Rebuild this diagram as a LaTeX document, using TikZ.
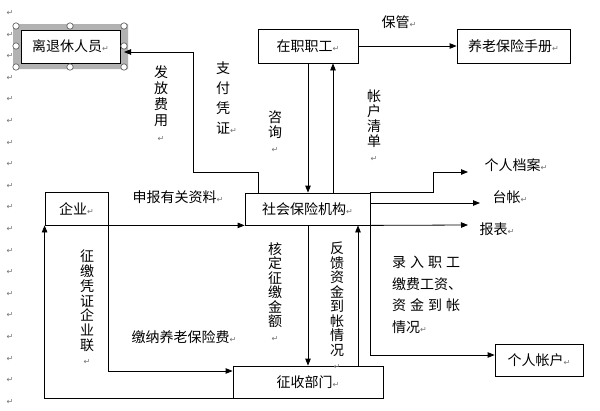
\documentclass[tikz,border=0pt]{standalone}
\usepackage{fontspec}
\setmainfont{Noto Sans CJK SC}
\newfontfamily\dejavu{DejaVu Sans}
\usetikzlibrary{arrows.meta,calc}
\newcommand\rmk{{\dejavu\fontsize{8}{8}\selectfont\textcolor{black!55}{↵}}}
\tikzset{
  box/.style={draw, line width=0.8pt, inner sep=0, font=\fontsize{14}{16}\selectfont},
  lab/.style={inner sep=0, font=\fontsize{14}{16}\selectfont},
  vlab/.style={inner sep=0, align=center, anchor=north, font=\fontsize{14}{#1}\selectfont},
  arr/.style={line width=0.8pt, -{Triangle[length=7pt,width=5.5pt]}},
  mk/.style={inner sep=0},
}
\begin{document}
\begin{tikzpicture}[x=1pt,y=-1pt]
\useasboundingbox (0,0) rectangle (600,410);
\fill[white] (0,0) rectangle (600,410);
% left margin paragraph marks
\foreach \i in {0,...,18} \node[mk] (m\i) at (10,13+21.6*\i) {\rmk};
% selection frame
\fill[black!30, even odd rule] (13,24) rectangle (128,69) (21,30) rectangle (120,63);
% boxes
\node[box, fill=white, minimum width=99pt, minimum height=33pt] (retire) at (70.5,46.5) {离退休人员\rmk};
\foreach \p in {(16,26),(70,26),(124,26),(16,46),(124,46),(16,67),(70,67),(124,67)}
  \draw[black!60, fill=white, line width=0.7pt] \p circle (3.2pt);
\node[box, minimum width=100pt, minimum height=34pt] (worker) at (308,46) {在职职工\rmk};
\node[box, minimum width=113pt, minimum height=34pt] (manual) at (513.5,46) {养老保险手册\rmk};
\node[box, minimum width=63pt, minimum height=33pt] (ent) at (76.5,208.5) {企业\rmk};
\node[box, minimum width=125pt, minimum height=32pt] (ssa) at (307.5,209) {社会保险机构\rmk};
\node[box, minimum width=150pt, minimum height=32pt] (collect) at (308,382) {征收部门\rmk};
\node[box, minimum width=88pt, minimum height=32pt] (acct) at (539,360) {个人帐户\rmk};
% text targets
\node[lab] (archive) at (516,165) {个人档案\rmk};
\node[lab] (taizhang) at (510,197) {台帐\rmk};
\node[lab] (baobiao) at (497,229) {报表\rmk};
% helper coordinates
\coordinate (x308) at (308,0);
\coordinate (x333) at (333,0);
\coordinate (x358) at (358,0);
\coordinate (b1) at (258,172);
\coordinate (b2) at (193,52);
\coordinate (retIn) at (124,52);
\coordinate (a1) at (433,172);
\coordinate (archIn) at (468,172);
\coordinate (tzIn) at (480,203);
\coordinate (bbIn) at (468,225);
\coordinate (acY) at (0,355);
\coordinate (cY) at (0,371);
% connectors
\draw[arr] (worker.east) -- (manual.west);
\draw[arr] (worker.south -| x308) -- (ssa.north -| x308);
\draw[arr] (ssa.north -| x333) -- (worker.south -| x333);
\draw[arr] (ssa.north -| b1) -- (b1) -| (b2) -- (retIn);
\draw[arr] (ssa.north east) -| (a1) -- (archIn);
\draw[arr] (ssa.east |- tzIn) -- (tzIn);
\draw[arr] (ssa.south east) -- (bbIn);
\draw[arr] (ssa.south east) |- (acct.west |- acY);
\draw[arr] (ent.south east) -- (ssa.south west);
\draw[arr] (ent.south east) |- (collect.west |- cY);
\draw[arr] (collect.south west) -| (ent.south west);
\draw[arr] (ssa.south -| x308) -- (collect.north -| x308);
\draw[arr] (collect.north -| x358) -- (ssa.south -| x358);
% labels
\node[lab] (lbaoguan) at (399,22) {保管\rmk};
\node[lab] (lshenbao) at (178,197) {申报有关资料\rmk};
\node[lab] (ljiaona) at (184,337) {缴纳养老保险费\rmk};
\node[vlab=16] (lfafang) at (161,65) {发\\放\\费\\用\\\rmk};
\node[vlab=20] (lzhifu) at (223,62) {支\\付\\凭\\证\rlap{\rmk}};
\node[vlab=15] (lzixun) at (275,111) {咨\\询\\\rmk};
\node[vlab=15] (lzhanghu) at (374,90) {帐\\户\\清\\单\\\rmk};
\node[vlab=14.7] (lpingzheng) at (87,250) {征\\缴\\凭\\证\\企\\业\\联\\\rmk};
\node[vlab=14.5] (lheding) at (275,242) {核\\定\\征\\缴\\金\\额\\\rmk};
\node[vlab=14.5] (lfankui) at (337,242) {反\\馈\\资\\金\\到\\帐\\情\\况\\\rmk};
\node[lab, anchor=north west, align=left, font=\fontsize{14}{21.5}\selectfont] (lluru) at (392,256)
  {\makebox[68pt][s]{录\hfill 入\hfill 职\hfill 工}\\缴费工资、\\\makebox[68pt][s]{资\hfill 金\hfill 到\hfill 帐}\\情况\rmk};
\end{tikzpicture}
\end{document}
